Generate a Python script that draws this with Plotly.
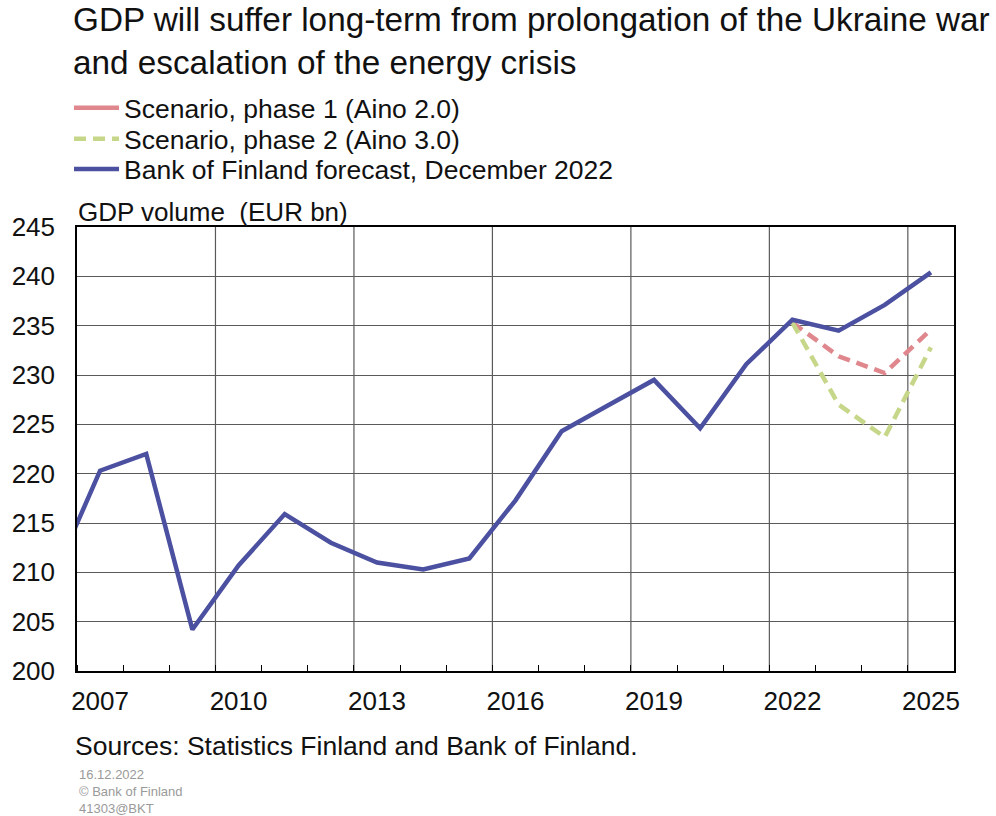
import plotly.graph_objects as go

# ---- data ----
years = list(range(2006, 2026))
bof_forecast = [209.6, 220.3, 222.0, 204.2, 210.7, 215.9, 213.0, 211.0, 210.3, 211.4,
                217.3, 224.3, 226.9, 229.5, 224.6, 231.1, 235.6, 234.5, 237.1, 240.4]
scen_years = [2022, 2023, 2024, 2025]
scenario_phase1 = [235.3, 231.9, 230.2, 234.6]
scenario_phase2 = [235.3, 227.0, 223.7, 232.8]

tick_years = [2007, 2010, 2013, 2016, 2019, 2022, 2025]
tick_labels = [str(y) for y in tick_years]
grid_years = [2009.5, 2012.5, 2015.5, 2018.5, 2021.5, 2024.5]
y_ticks = [200, 205, 210, 215, 220, 225, 230, 235, 240, 245]

names = ["Scenario, phase 1 (Aino 2.0)", "Scenario, phase 2 (Aino 3.0)",
         "Bank of Finland forecast, December 2022"]

FONT = "Liberation Sans, Arial, sans-serif"
BLUE = "#4b50a0"
RED = "#e0878d"
GREEN = "#c6d789"
GRID = "#5a5a5a"
TXT = "#111111"

fig = go.Figure()
# legend key for phase 1 is drawn solid in the reference
fig.add_trace(go.Scatter(x=[None], y=[None], mode="lines", name=names[0],
                         legend="legend", hoverinfo="skip",
                         line=dict(color=RED, width=4.5)))
fig.add_trace(go.Scatter(x=scen_years, y=scenario_phase1, mode="lines", name=names[0],
                         showlegend=False,
                         line=dict(color=RED, width=4.5, dash="12px,7px")))
fig.add_trace(go.Scatter(x=scen_years, y=scenario_phase2, mode="lines", name=names[1],
                         legend="legend2",
                         line=dict(color=GREEN, width=4.5, dash="12px,7px")))
fig.add_trace(go.Scatter(x=years, y=bof_forecast, mode="lines", name=names[2],
                         legend="legend3",
                         line=dict(color=BLUE, width=4.5)))

for gx in grid_years:
    fig.add_vline(x=gx, line=dict(color=GRID, width=1.2), layer="below")

legend_common = dict(x=-0.0091, xanchor="left", yanchor="middle",
                     font=dict(family=FONT, size=26.5, color=TXT),
                     itemwidth=45, bgcolor="rgba(0,0,0,0)")

fig.update_layout(
    width=996, height=816,
    margin=dict(l=77, r=42, t=227, b=145),
    paper_bgcolor="white", plot_bgcolor="white",
    font=dict(family=FONT, size=26, color=TXT),
    title=dict(text="GDP will suffer long-term from prolongation of the Ukraine war<br>and escalation of the energy crisis",
               x=73 / 996, xanchor="left", xref="container",
               y=1 - 31 / 816, yanchor="top", yref="container",
               font=dict(family=FONT, size=33.3, color=TXT)),
    legend=dict(y=1.268, **legend_common),
    legend2=dict(y=1.198, **legend_common),
    legend3=dict(y=1.130, **legend_common),
    showlegend=True,
    xaxis=dict(range=[2006.5, 2025.5], tickvals=tick_years, ticktext=tick_labels,
               showgrid=False, ticks="", zeroline=False,
               showline=True, linecolor="black", linewidth=1.5, mirror=True,
               tickfont=dict(size=26), ticklabelstandoff=6,
               minor=dict(tick0=2006.5, dtick=1, ticks="inside", ticklen=6,
                          tickcolor="black", tickwidth=1, showgrid=False)),
    yaxis=dict(range=[200, 245], tickvals=y_ticks, showgrid=True,
               gridcolor=GRID, gridwidth=1.2, zeroline=False, ticks="",
               showline=True, linecolor="black", linewidth=1.5, mirror=True,
               tickfont=dict(size=26), ticklabelstandoff=15),
)

fig.add_annotation(text="GDP volume&nbsp; (EUR bn)", xref="paper", yref="paper",
                   x=-1 / 877, y=1, xanchor="left", yanchor="bottom", yshift=-2,
                   showarrow=False, font=dict(size=26, family=FONT, color=TXT))
fig.add_annotation(text="Sources: Statistics Finland and Bank of Finland.",
                   xref="paper", yref="paper", x=-4 / 877, y=0, xanchor="left",
                   yanchor="top", yshift=-58, showarrow=False,
                   font=dict(size=26.5, family=FONT, color=TXT))
fig.add_annotation(text="16.12.2022<br>© Bank of Finland<br>41303@BKT",
                   xref="paper", yref="paper", x=0, y=0, xanchor="left",
                   yanchor="top", yshift=-94, showarrow=False, align="left",
                   font=dict(size=13, family=FONT, color="#9a9a9a"))

fig.write_html("out.html", config={"displayModeBar": False},
               post_script="document.body.style.margin='0px';")
